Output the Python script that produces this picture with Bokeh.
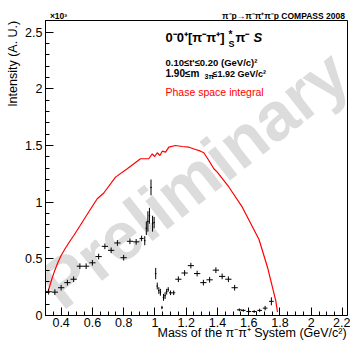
import numpy as np
from bokeh.plotting import figure
from bokeh.models import Range1d, FixedTicker, Label, ColumnDataSource, LinearAxis
from bokeh.core.properties import value
from bokeh.embed import file_html
from bokeh.resources import INLINE

# ---- data (intensity in units of 10^3) ----
mass = [0.32, 0.36, 0.40, 0.44, 0.48, 0.52, 0.56, 0.60, 0.64, 0.68, 0.72, 0.76, 0.80, 0.84, 0.88, 0.915,
        0.935, 0.945, 0.955, 0.965, 0.975, 0.985, 0.995, 1.005, 1.015, 1.025, 1.035, 1.045, 1.055, 1.065,
        1.075, 1.085, 1.10, 1.12, 1.15, 1.19, 1.23, 1.27, 1.31, 1.35, 1.39, 1.43, 1.47, 1.51,
        1.54, 1.565, 1.60, 1.635, 1.67, 1.705, 1.745]
intensity = [0.21, 0.206, 0.245, 0.29, 0.32, 0.435, 0.435, 0.465, 0.52, 0.61, 0.575, 0.64, 0.51, 0.655, 0.65, 0.68,
             0.66, 0.77, 0.83, 0.88, 1.13, 0.81, 0.82, 0.37, 0.26, 0.22, 0.205, 0.07, 0.16, 0.175,
             0.21, 0.23, 0.20, 0.20, 0.32, 0.375, 0.44, 0.37, 0.29, 0.315, 0.40, 0.345, 0.32, 0.245,
             0.05, 0.045, 0.035, 0.035, 0.045, 0.065, 0.125]
half_width = [0.02] * 15 + [0.013] + [0.005] * 16 + [0.01, 0.01] + [0.02] * 10 + [0.015] * 7
error = [0.025] * 16 + [0.04, 0.06, 0.09, 0.07, 0.07, 0.07, 0.05, 0.05, 0.03, 0.03, 0.03, 0.015, 0.03, 0.03,
                         0.025, 0.02, 0.02, 0.02] + [0.025] * 10 + [0.012, 0.012, 0.012, 0.012, 0.015, 0.02, 0.035]

ps_mass = [0.317, 0.34, 0.36, 0.38, 0.40, 0.43, 0.459, 0.481, 0.52, 0.566, 0.631, 0.673, 0.748, 0.823, 0.908,
           0.961, 0.983, 0.998, 1.015, 1.032, 1.047, 1.068, 1.089, 1.132, 1.175, 1.217, 1.26, 1.292, 1.313,
           1.345, 1.377, 1.399, 1.474, 1.559, 1.666, 1.72, 1.773, 1.784]
ps_int = [0.214, 0.32, 0.40, 0.47, 0.53, 0.60, 0.662, 0.706, 0.79, 0.891, 1.03, 1.081, 1.221, 1.295, 1.383,
          1.383, 1.427, 1.403, 1.436, 1.412, 1.45, 1.441, 1.485, 1.50, 1.491, 1.485, 1.465, 1.45, 1.436,
          1.368, 1.295, 1.265, 1.132, 0.956, 0.671, 0.426, 0.132, 0.031]

x_ticks = [0.4, 0.6, 0.8, 1.0, 1.2, 1.4, 1.6, 1.8, 2.0, 2.2]
x_tick_labels = ["0.4", "0.6", "0.8", "1", "1.2", "1.4", "1.6", "1.8", "2", "2.2"]
y_ticks = [0, 0.5, 1.0, 1.5, 2.0, 2.5]
y_tick_labels = ["0", "0.5", "1", "1.5", "2", "2.5"]

X0, X1 = 0.3, 2.232
Y0, Y1 = 0.0, 2.603

FONT = "Liberation Sans"
NBSP = "\u00a0"

p = figure(width=350, height=342, x_range=Range1d(X0, X1), y_range=Range1d(Y0, Y1),
           output_backend="svg", toolbar_location=None,
           min_border_left=45, min_border_right=3, min_border_top=20, min_border_bottom=27)
p.xgrid.visible = False
p.ygrid.visible = False
p.outline_line_color = "black"
p.outline_line_width = 1
p.background_fill_color = "white"
p.border_fill_color = "white"

# frame geometry in image pixels (for text placement)
XS = 302 / (X1 - X0)
YS = 295 / (Y1 - Y0)
def ix(px):
    return X0 + (px - 45) / XS
def iy(py):
    return (315 - py) / YS

# watermark
p.text(x=[ix(193)], y=[iy(178)], text=["Preliminary"], angle=0.665, text_align="center",
       text_baseline="middle", text_font=value(FONT), text_font_style="bold",
       text_font_size="68px", text_color="#dcdcdc")

# phase-space curve
p.line(ps_mass, ps_int, line_color="#ff0000", line_width=1.2)

# data points with error crosses
m = np.array(mass); v = np.array(intensity); hw = np.array(half_width); er = np.array(error)
src = ColumnDataSource(dict(x=m, y=v, xl=m - hw, xr=m + hw, yl=v - er, yh=v + er))
p.segment(x0="xl", x1="xr", y0="y", y1="y", source=src, line_color="black", line_width=1)
p.segment(x0="x", x1="x", y0="yl", y1="yh", source=src, line_color="black", line_width=1)

# axes
for ax in (p.xaxis[0], p.yaxis[0]):
    ax.major_tick_in = 8
    ax.major_tick_out = 0
    ax.minor_tick_in = 4
    ax.minor_tick_out = 0
    ax.axis_line_color = "black"
    ax.major_tick_line_color = "black"
    ax.minor_tick_line_color = "black"
    ax.major_label_text_font = FONT
    ax.major_label_text_font_size = "12.5px"
    ax.major_label_text_color = "black"
    ax.axis_label_text_font = FONT
    ax.axis_label_text_font_size = "12.5px"
    ax.axis_label_text_font_style = "normal"
    ax.axis_label_text_color = "black"

# axis titles sit at the far end of each axis (ROOT style); centred labels are
# pushed there with leading no-break spaces
p.xaxis.ticker = FixedTicker(ticks=x_ticks, minor_ticks=list(np.round(np.arange(0.3, 2.23, 0.05), 3)))
p.xaxis.major_label_overrides = {t: l for t, l in zip(x_ticks, x_tick_labels)}
p.xaxis.major_label_standoff = 2
p.xaxis.axis_label = NBSP * 32 + "Mass of the π⁻π⁺ System (GeV/c²)"
p.xaxis.axis_label_standoff = -4

p.yaxis.ticker = FixedTicker(ticks=y_ticks, minor_ticks=list(np.round(np.arange(0, 2.61, 0.1), 3)))
p.yaxis.major_label_overrides = {t: l for t, l in zip(y_ticks, y_tick_labels)}
p.yaxis.major_label_standoff = 3
p.yaxis.axis_label = NBSP * 60 + "Intensity (A. U.)"
p.yaxis.axis_label_standoff = 2

# header row above the frame: exponent marker and reaction/experiment tag
hdr_pos = [ix(58), ix(283)]
hdr_text = ["×10³", "π⁻p→π⁻π⁺π⁻p COMPASS 2008"]
top = LinearAxis(ticker=FixedTicker(ticks=hdr_pos, minor_ticks=[]),
                 major_label_overrides={t: s for t, s in zip(hdr_pos, hdr_text)},
                 axis_line_color=None, major_tick_line_color=None, minor_tick_line_color=None,
                 major_tick_in=0, major_tick_out=0, minor_tick_in=0, minor_tick_out=0,
                 major_label_standoff=0, major_label_text_font=FONT, major_label_text_font_size="8.5px",
                 major_label_text_font_style="bold", major_label_text_color="black")
p.add_layout(top, "above")

def lab(text, px, py, size, align="left", style="normal", color="black"):
    p.add_layout(Label(x=ix(px), y=iy(py), text=text, text_font=FONT, text_font_size=size,
                       text_font_style=style, text_color=color, text_align=align,
                       text_baseline="alphabetic"))

# legend block
lab("0⁻0⁺[π⁻π⁺]", 165, 37, "13px", style="bold")
lab("*", 228, 34, "10px", style="bold")
lab("S", 228, 43, "9px", style="bold")
lab("π⁻", 235, 37, "13px", style="bold")
lab("S", 253, 37, "13px", style="bold italic")
lab("0.10≤t'≤0.20 (GeV/c)²", 165, 62, "9.5px", style="bold")
lab("1.90≤m", 165, 73, "10px", style="bold")
lab("3π", 204, 76, "7px", style="bold")
lab("≤1.92 GeV/c²", 212, 73, "9px", style="bold")
lab("Phase space integral", 165, 91, "10.5px", color="#ff0000")

open("out.html", "w").write(file_html(p, INLINE))
